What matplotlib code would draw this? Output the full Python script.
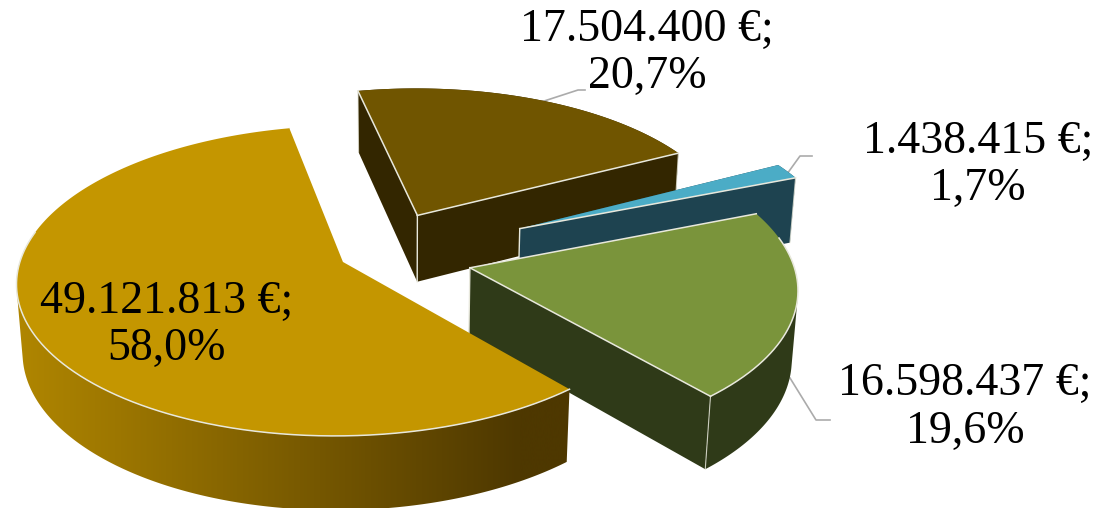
import numpy as np
import matplotlib
matplotlib.use("Agg")
import matplotlib.pyplot as plt
from matplotlib.patches import Polygon
from matplotlib.colors import LinearSegmentedColormap

# --- data ---
values = [17504400, 1438415, 16598437, 49121813]
top_colors = ["#705500", "#4BACC6", "#7A943B", "#C49600"]
wall_colors = ["#332600", "#1E4350", "#2F3A18", None]
gold_ramp = ["#B08600", "#4E3800"]

# --- layout ---
first_angle = 348.0
offset_x = [0.043, 0.368, 0.203, -0.189]
offset_y = [0.237, 0.145, -0.117, -0.079]
radial_edges = [(True, True), (False, True), (True, True), (False, False)]
label_xy = [(647, 30, 77), (978, 142, 189), (965, 384, 432), (167, 302, 349)]
leaders = [[(538, 103), (578, 90), (585, 90)],
           [(787, 174), (800, 156), (812, 156)],
           [(790, 378), (816, 420), (830, 420)]]
cx, cy, k, q, tilt, height = 404.0, 250.0, 320.0, 0.12, np.arcsin(150 / 320), 0.243
D = np.cos(tilt) / q
edge = "#E8E8DC"

fig = plt.figure(figsize=(11.01, 5.08), dpi=100)
ax = fig.add_axes([0, 0, 1, 1])
ax.set_xlim(0, 1101)
ax.set_ylim(508, 0)
ax.axis("off")
cmap = LinearSegmentedColormap.from_list("gold", gold_ramp)


def project(X, Y, Z=0.0):
    den = 1 + q * Y - Z * np.sin(tilt) / D
    return cx + k * X / den, cy - k * (Y * np.sin(tilt) + Z * np.cos(tilt)) / den


total = sum(values)
angle = first_angle
for i, v in enumerate(values):
    span = v / total * 360
    th = np.radians(np.linspace(angle, angle + span, max(60, int(span * 4))))
    angle += span
    ax0, ay0 = offset_x[i], offset_y[i]
    rx, ry = ax0 + np.sin(th), ay0 + np.cos(th)
    tx, ty = project(rx, ry)
    bx, by = project(rx, ry, -height)
    apx, apy = project(ax0, ay0)
    abx, aby = project(ax0, ay0, -height)
    z = 2 + i * 3
    wall = wall_colors[i]
    # radial faces
    if wall is not None:
        for j in (0, -1):
            ax.fill([apx, tx[j], bx[j], abx], [apy, ty[j], by[j], aby],
                    color=wall, lw=0, zorder=z)
        ax.plot([apx, abx], [apy, aby], color=edge, lw=1, zorder=z + 1)
    # rim wall: only the stretch that faces the viewer, as one shape
    area = (tx[1:] - tx[:-1]) * (by[:-1] - ty[:-1]) - (bx[:-1] - tx[:-1]) * (ty[1:] - ty[:-1])
    sign = area[np.argmin(np.cos(th[:-1]))]
    keep = np.where(area * sign > 0)[0]
    if keep.size:
        a, b = keep[0], keep[-1] + 2
        rim_xy = np.c_[np.r_[tx[a:b], bx[a:b][::-1]], np.r_[ty[a:b], by[a:b][::-1]]]
        if wall is None:
            poly = Polygon(rim_xy, closed=True, fc="none", ec="none")
            ax.add_patch(poly)
            grad = np.linspace(0, 1, 512).reshape(1, -1)
            im = ax.imshow(grad, extent=(17, 520, 508, 0), cmap=cmap, aspect="auto",
                           zorder=z, interpolation="bilinear")
            im.set_clip_path(poly)
            over = ax.imshow(grad * 0 + 1, extent=(520, 580, 508, 0), cmap=cmap, vmin=0, vmax=1,
                             aspect="auto", zorder=z)
            over.set_clip_path(poly)
            ax.set_xlim(0, 1101)
            ax.set_ylim(508, 0)
        else:
            ax.fill(rim_xy[:, 0], rim_xy[:, 1], color=wall, lw=0, zorder=z)
    # vertical corner lines
    for j in (0, -1):
        if wall is not None and (i != 1 or j == -1):
            ax.plot([tx[j], bx[j]], [ty[j], by[j]], color=edge, lw=0.8, zorder=z + 1, alpha=0.8)
    if wall is None:
        ax.plot([tx[-1], bx[-1]], [ty[-1], by[-1]], color=edge, lw=0.7, zorder=z + 1)
    # top face
    px = np.r_[apx, tx, apx]
    py = np.r_[apy, ty, apy]
    ax.fill(px, py, color=top_colors[i], lw=0, zorder=z + 1)
    # light edges only where a dark wall lies below them
    if radial_edges[i][0]:
        ax.plot([apx, tx[0]], [apy, ty[0]], color=edge, lw=1.1, zorder=z + 2)
    if radial_edges[i][1]:
        ax.plot([apx, tx[-1]], [apy, ty[-1]], color=edge, lw=1.1, zorder=z + 2)
    front = np.cos(th) < 0.2
    if i >= 2 and front.any():
        ax.plot(tx[front], ty[front], color=edge, lw=1.1, zorder=z + 2)

for pts in leaders:
    xs, ys = zip(*pts)
    ax.plot(xs, ys, color="#ABABAB", lw=1.2, zorder=1)


def money(v):
    return f"{v:,}".replace(",", ".") + " €;"


for v, (x, y1, y2) in zip(values, label_xy):
    ax.text(x, y1, money(v), ha="center", va="center", fontsize=33,
            family="Liberation Serif", color="black", zorder=30)
    pct = f"{v / total * 100:.1f}%".replace(".", ",")
    ax.text(x, y2, pct, ha="center", va="center", fontsize=33,
            family="Liberation Serif", color="black", zorder=30)

fig.savefig("out.png", dpi=100)
